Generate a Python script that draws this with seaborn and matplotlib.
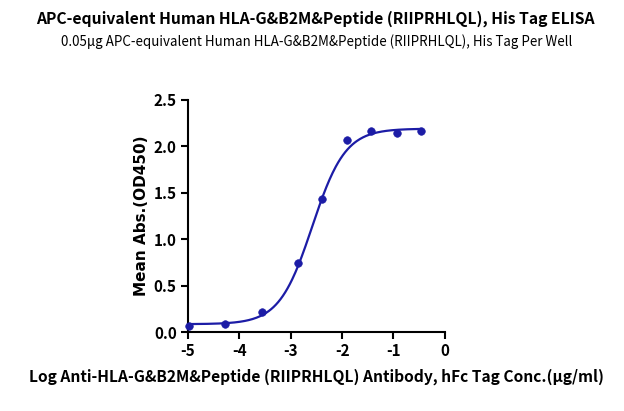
import numpy as np
import pandas as pd
import matplotlib
matplotlib.use('Agg')
import matplotlib.pyplot as plt
import seaborn as sns

# ------------------------------
# Data
# ------------------------------
log_conc = [-4.97, -4.27, -3.56, -2.86, -2.39, -1.90, -1.43, -0.94, -0.47]
od450 = [0.068, 0.086, 0.22, 0.74, 1.43, 2.07, 2.16, 2.145, 2.17]

# 4PL fit parameters (estimated from the drawn curve)
bottom, top, log_ec50, hill = 0.085, 2.19, -2.58, 1.35

x_ticks = [-5, -4, -3, -2, -1, 0]
y_ticks = [0.0, 0.5, 1.0, 1.5, 2.0, 2.5]

title = 'APC-equivalent Human HLA-G&B2M&Peptide (RIIPRHLQL), His Tag ELISA'
subtitle = '0.05μg APC-equivalent Human HLA-G&B2M&Peptide (RIIPRHLQL), His Tag Per Well'
xlabel = 'Log Anti-HLA-G&B2M&Peptide (RIIPRHLQL) Antibody, hFc Tag Conc.(μg/ml)'
ylabel = 'Mean Abs.(OD450)'

blue = '#1c1ca6'

df = pd.DataFrame({'log_conc': log_conc, 'od450': od450})

xs = np.linspace(-5, log_conc[-1], 300)
fit = pd.DataFrame({'x': xs,
                    'y': bottom + (top - bottom) / (1 + 10 ** ((log_ec50 - xs) * hill))})

sns.set_theme(style='ticks')
plt.rcParams['font.family'] = ['Noto Sans CJK SC', 'DejaVu Sans']
plt.rcParams['text.color'] = 'black'
plt.rcParams['axes.labelcolor'] = 'black'
plt.rcParams['xtick.color'] = 'black'
plt.rcParams['ytick.color'] = 'black'

fig = plt.figure(figsize=(6.24, 4.11), dpi=100)
ax = fig.add_axes([0.301, 0.192, 0.412, 0.565])

sns.lineplot(data=fit, x='x', y='y', color=blue, lw=1.6, ax=ax)
sns.scatterplot(data=df, x='log_conc', y='od450', color=blue, s=30,
                edgecolor=blue, zorder=3, clip_on=False, ax=ax)

ax.set_xlim(-5, 0)
ax.set_ylim(0, 2.5)
ax.set_xticks(x_ticks)
ax.set_yticks(y_ticks)
ax.set_xticklabels([str(t) for t in x_ticks], fontweight='bold', fontsize=11)
ax.set_yticklabels([f'{t:.1f}' for t in y_ticks], fontweight='bold', fontsize=11)
ax.tick_params(axis='both', length=5, width=1.5, color='black', pad=3)
for s in ['left', 'bottom']:
    ax.spines[s].set_linewidth(1.5)
    ax.spines[s].set_color('black')
ax.spines['top'].set_visible(False)
ax.spines['right'].set_visible(False)

ax.set_xlabel(xlabel, fontsize=11.2, fontweight='bold', labelpad=7)
ax.set_ylabel(ylabel, fontsize=11, fontweight='bold', family='DejaVu Sans', labelpad=3)

fig.text(0.505, 0.955, title, ha='center', va='center', fontsize=11.3, fontweight='bold')
fig.text(0.507, 0.898, subtitle, ha='center', va='center', fontsize=9.6)

fig.savefig('out.png', dpi=100)
